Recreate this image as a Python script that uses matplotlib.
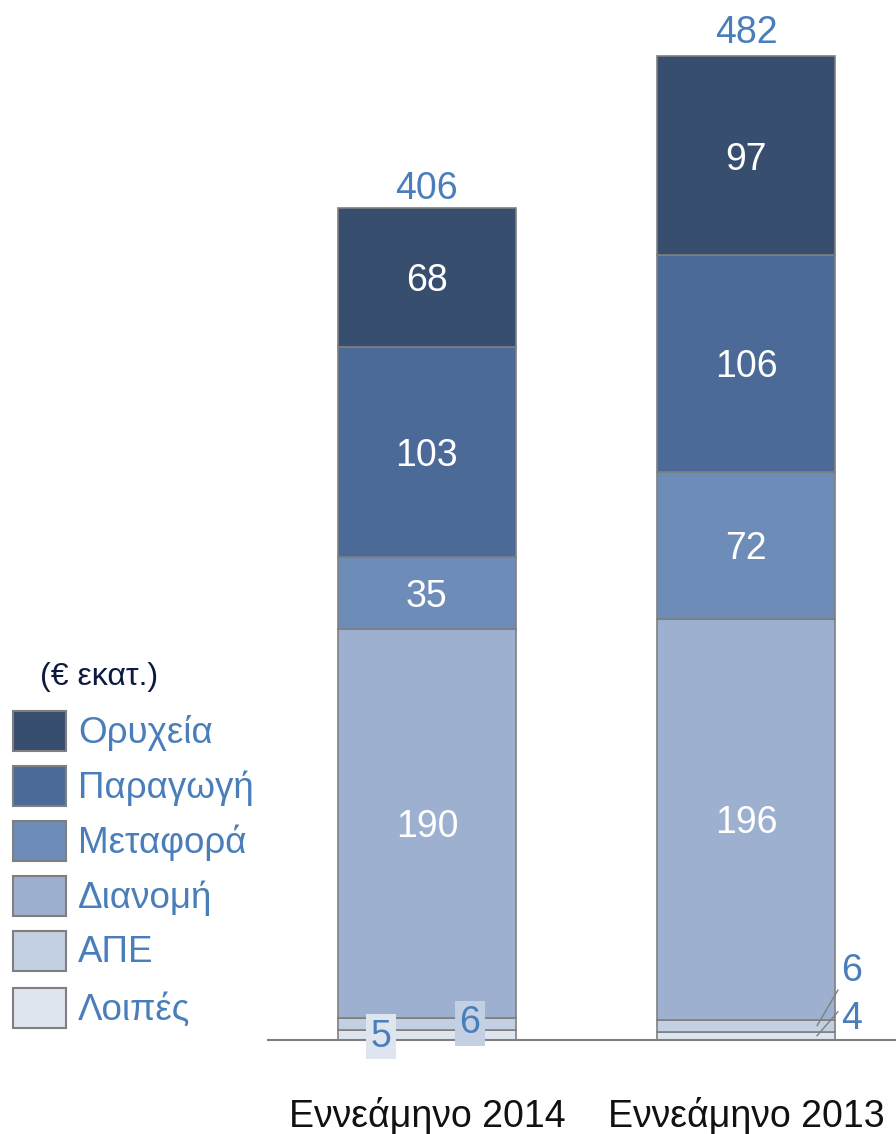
import matplotlib
matplotlib.use("Agg")
import matplotlib.pyplot as plt
from matplotlib.patches import Rectangle
import numpy as np

plt.rcParams["font.family"] = ["Liberation Sans", "DejaVu Sans"]

# data
periods = ["Εννεάμηνο 2014", "Εννεάμηνο 2013"]
segments = ["Λοιπές", "ΑΠΕ", "Διανομή", "Μεταφορά", "Παραγωγή", "Ορυχεία"]
loipes = [5, 4]
ape = [6, 6]
dianomi = [190, 196]
metafora = [35, 72]
paragogi = [103, 106]
oryxeia = [68, 97]
totals = [406, 482]

colors = ["#dfe5ef", "#c3cfe2", "#9db0cf", "#6d8cb8", "#4b6a98", "#384e6e"]
blue_txt = "#4a7ebb"
edge = "#7f7f7f"
fs = 27

values = [loipes, ape, dianomi, metafora, paragogi, oryxeia]

fig = plt.figure(figsize=(8.96, 11.34), dpi=100)
ax = fig.add_axes([268 / 896, 94 / 1134, 628 / 896, 1040 / 1134])

x = np.arange(len(periods))
width = 0.558
bottom = np.zeros(len(periods))
for seg, vals, col in zip(segments, values, colors):
    ax.bar(x, vals, width, bottom=bottom, color=col, edgecolor=edge,
           linewidth=1.2, label=seg)
    if seg in ("Διανομή", "Μεταφορά", "Παραγωγή", "Ορυχεία"):
        for xi, b, v in zip(x, bottom, vals):
            ax.text(xi, b + v / 2, str(v), ha="center", va="center_baseline",
                    color="white", fontsize=fs)
    bottom += np.array(vals)

# totals above bars
for xi, t in zip(x, totals):
    ax.annotate(str(t), (xi, t), xytext=(0, 18), textcoords="offset points",
                ha="center", va="center_baseline", color=blue_txt, fontsize=fs)

# small values of 2014 in boxes
ax.text(x[0] - 0.144, 1.5, str(loipes[0]), ha="center", va="center",
        color=blue_txt, fontsize=fs,
        bbox=dict(boxstyle="square,pad=0.12", fc=colors[0], ec="none"))
ax.text(x[0] + 0.135, 8.3, str(ape[0]), ha="center", va="center",
        color=blue_txt, fontsize=fs,
        bbox=dict(boxstyle="square,pad=0.12", fc=colors[1], ec="none"))

# small values of 2013 with leader lines
ax.plot([x[1] + 0.2226, x[1] + 0.288], [7.0, 24.4], color=edge, lw=1)
ax.plot([x[1] + 0.2226, x[1] + 0.288], [2.1, 13.8], color=edge, lw=1)
ax.text(x[1] + 0.332, 35.7, str(ape[1]), ha="center", va="center_baseline",
        color=blue_txt, fontsize=fs)
ax.text(x[1] + 0.332, 12.2, str(loipes[1]), ha="center", va="center_baseline",
        color=blue_txt, fontsize=fs)

ax.set_xlim(-0.498, 1.470)
ax.set_ylim(0, 508.6)
ax.set_xticks(x)
ax.set_xticklabels(periods, fontsize=fs, color="#111111")
ax.tick_params(axis="x", length=0, pad=41)
ax.set_yticks([])
for s in ["top", "left", "right"]:
    ax.spines[s].set_visible(False)
ax.spines["bottom"].set_color(edge)
ax.spines["bottom"].set_linewidth(1.5)

# legend drawn by hand
fig.text(40 / 896, 1 - 677 / 1134, "(€ εκατ.)", ha="left", va="center",
         fontsize=23, color="#0d1a40")
row_y = [731, 786, 841, 896, 951, 1008]
for seg, col, yy in zip(segments[::-1], colors[::-1], row_y):
    fig.patches.append(Rectangle((13 / 896, 1 - (yy + 20) / 1134), 53 / 896, 40 / 1134,
                                 transform=fig.transFigure, fc=col, ec=edge, lw=1.5))
    fig.text(78 / 896, 1 - (yy + 2) / 1134, seg, ha="left", va="center",
             fontsize=26.5, color=blue_txt)

fig.savefig("out.png", dpi=100)
